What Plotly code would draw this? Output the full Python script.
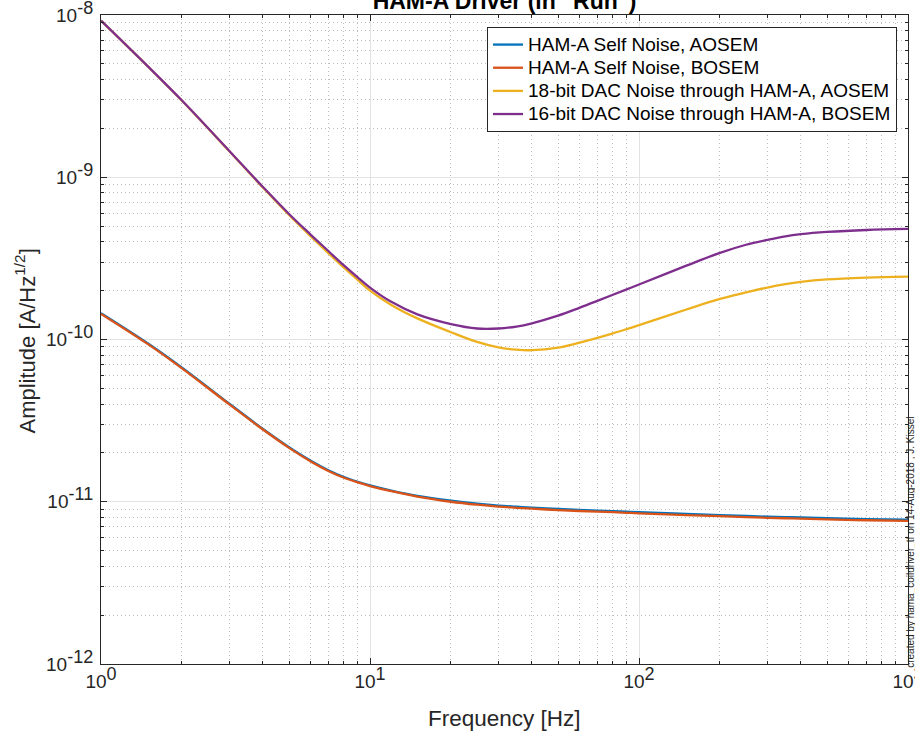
import plotly.graph_objects as go

# ---- data ----
freq = [1, 1.5, 2, 3, 4, 5, 6, 7, 8, 9, 10, 12, 15, 20, 25, 30, 35, 40, 50, 60,
        70, 80, 90, 100, 150, 200, 250, 300, 350, 400, 500, 700, 1000]

self_aosem = [1.453e-10, 9.42e-11, 6.71e-11, 4.02e-11, 2.81e-11, 2.17e-11, 1.796e-11,
              1.565e-11, 1.42e-11, 1.328e-11, 1.263e-11, 1.173e-11, 1.088e-11, 1.015e-11,
              9.73e-12, 9.47e-12, 9.32e-12, 9.2e-12, 9.03e-12, 8.9e-12, 8.82e-12,
              8.76e-12, 8.68e-12, 8.62e-12, 8.41e-12, 8.28e-12, 8.17e-12, 8.09e-12,
              8.04e-12, 8.0e-12, 7.91e-12, 7.81e-12, 7.75e-12]

self_bosem = [1.439e-10, 9.33e-11, 6.64e-11, 3.98e-11, 2.786e-11, 2.148e-11, 1.778e-11,
              1.549e-11, 1.406e-11, 1.315e-11, 1.25e-11, 1.161e-11, 1.076e-11, 1.0e-11,
              9.59e-12, 9.33e-12, 9.18e-12, 9.06e-12, 8.89e-12, 8.77e-12, 8.69e-12,
              8.63e-12, 8.55e-12, 8.49e-12, 8.28e-12, 8.15e-12, 8.04e-12, 7.96e-12,
              7.91e-12, 7.87e-12, 7.78e-12, 7.69e-12, 7.62e-12]

dac18_aosem = [9.23e-9, 4.78e-9, 2.96e-9, 1.445e-9, 8.63e-10, 5.85e-10, 4.35e-10,
               3.41e-10, 2.77e-10, 2.33e-10, 2.0e-10, 1.633e-10, 1.349e-10, 1.109e-10,
               9.66e-11, 8.95e-11, 8.65e-11, 8.59e-11, 8.91e-11, 9.55e-11, 1.023e-10,
               1.091e-10, 1.159e-10, 1.225e-10, 1.531e-10, 1.778e-10, 1.95e-10, 2.09e-10,
               2.193e-10, 2.265e-10, 2.344e-10, 2.405e-10, 2.443e-10]

dac16_bosem = [9.23e-9, 4.79e-9, 2.97e-9, 1.452e-9, 8.71e-10, 5.94e-10, 4.45e-10,
               3.51e-10, 2.86e-10, 2.415e-10, 2.09e-10, 1.706e-10, 1.429e-10, 1.245e-10,
               1.169e-10, 1.169e-10, 1.202e-10, 1.259e-10, 1.403e-10, 1.567e-10, 1.73e-10,
               1.888e-10, 2.037e-10, 2.183e-10, 2.851e-10, 3.42e-10, 3.837e-10, 4.11e-10,
               4.325e-10, 4.457e-10, 4.60e-10, 4.73e-10, 4.80e-10]

names = ["HAM-A Self Noise, AOSEM", "HAM-A Self Noise, BOSEM",
         "18-bit DAC Noise through HAM-A, AOSEM", "16-bit DAC Noise through HAM-A, BOSEM"]
colors = ["#0072BD", "#D95319", "#EDB120", "#7E2F8E"]
series = [self_aosem, self_bosem, dac18_aosem, dac16_bosem]

SUP = "<sup><span style='font-size:18px'>{}</span></sup>"
x_major = [1, 10, 100, 1000]
x_major_text = ["10" + SUP.format(e) for e in ["0", "1", "2", "3"]]
y_major = [1e-12, 1e-11, 1e-10, 1e-9, 1e-8]
y_major_text = ["10" + SUP.format(e) for e in ["-12", "-11", "-10", "-9", "-8"]]

x_minor = [m * d for d in [1, 10, 100] for m in range(2, 10)]
y_minor = [m * d for d in [1e-12, 1e-11, 1e-10, 1e-9] for m in range(2, 10)]

FONT = "Liberation Sans, Arial, Helvetica, sans-serif"
AX = "#262626"

fig = go.Figure()
for name, col, vals in zip(names, colors, series):
    fig.add_trace(go.Scatter(x=freq, y=vals, mode="lines",
                             name="<span style='font-size:19px'>" + name + "</span>",
                             line=dict(color=col, width=2.3, shape="spline", smoothing=1.0)))

axis_common = dict(
    type="log", showline=True, linecolor=AX, linewidth=1, mirror="ticks",
    ticks="inside", ticklen=6, tickcolor=AX, tickwidth=1,
    showgrid=True, gridcolor="#e3e3e3", gridwidth=1, automargin=False,
    zeroline=False, tickfont=dict(size=19, color=AX, family=FONT),
    ticklabeloverflow="allow",
)
minor_common = dict(ticks="inside", ticklen=3, tickcolor=AX, showgrid=True,
                    gridcolor="#bdbdbd", griddash="1px,3px", gridwidth=1)

fig.update_xaxes(
    **axis_common, range=[0, 3], tickmode="array", tickvals=x_major, ticktext=x_major_text,
    minor=dict(tickmode="array", tickvals=x_minor, **minor_common),
)
fig.update_yaxes(
    **axis_common, range=[-12, -8], tickmode="array", tickvals=y_major, ticktext=y_major_text,
    ticklabelstandoff=3,
    minor=dict(tickmode="array", tickvals=y_minor, **minor_common),
)

fig.update_layout(
    width=915, height=734,
    margin=dict(l=101, r=7, t=15, b=70, autoexpand=False),
    paper_bgcolor="white", plot_bgcolor="white",
    font=dict(family=FONT, color=AX),
    title=dict(text="<b>HAM-A Driver (in \"Run\")</b>", x=(101 + 908) / 2 / 915, xanchor="center",
               yref="container", y=1 - 9 / 734, yanchor="bottom",
               font=dict(size=23, color="black", family=FONT)),
    legend=dict(x=0.9864, y=0.9815, xanchor="right", yanchor="top",
                bgcolor="white", bordercolor=AX, borderwidth=1,
                font=dict(size=15.5, color="black", family=FONT),
                tracegroupgap=0),
    showlegend=True,
)

# axis titles
fig.add_annotation(text="Frequency [Hz]", xref="paper", yref="paper",
                   x=0.5, y=(664 - 718) / 648, xanchor="center", yanchor="middle",
                   showarrow=False, font=dict(size=22.5, color=AX, family=FONT))
fig.add_annotation(text="Amplitude [A/Hz<sup>1/2</sup>]", xref="paper", yref="paper",
                   x=(25 - 101) / 807, y=(664 - 342) / 648, xanchor="center", yanchor="middle",
                   textangle=-90, showarrow=False, font=dict(size=22, color=AX, family=FONT))

fig.add_annotation(
    text="created by hama_coildriver_tf on 14-Aug-2018 , J. Kissel",
    xref="paper", yref="paper", x=(911 - 101) / 807, y=(664 - 542) / 648,
    xanchor="center", yanchor="middle", textangle=-90, showarrow=False,
    font=dict(size=10, color=AX, family=FONT),
)

fig.write_html("out.html", config={"displayModeBar": False},
               post_script="document.body.style.margin='0';")
